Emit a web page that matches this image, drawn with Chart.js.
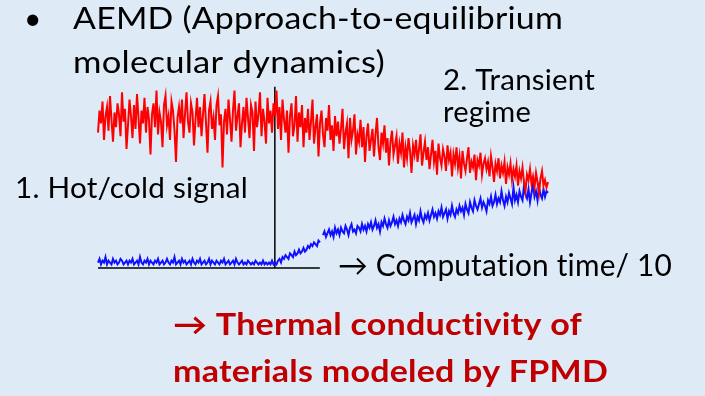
<!DOCTYPE html>
<html>
<head>
<meta charset="utf-8">
<script src="https://cdn.jsdelivr.net/npm/chart.js@4"></script>
<style>
  body { margin: 0; background: #deebf7; }
  #wrap { width: 705px; height: 396px; }
</style>
</head>
<body>
<div id="wrap"><canvas id="aemdChart" width="705" height="396"></canvas></div>
<script>
// hot side signal (red), % of initial gap
const hotSignal = [
  74, 86, 79, 91, 70, 83, 88, 75, 94, 81, 69, 85, 77, 90, 84, 72, 96, 80, 87, 65,
  78, 92, 83, 71, 89, 76, 95, 82, 68, 86, 79, 93, 74, 88, 81, 62, 84, 90, 77, 97,
  73, 85, 80, 66, 89, 94, 78, 83, 70, 91, 86, 75, 58, 82, 88, 79, 92, 71, 84, 96,
  80, 74, 90, 85, 67, 81, 93, 77, 88, 72, 84, 95, 79, 63, 86, 91, 76, 82, 70, 89,
  94, 78, 84, 55, 80, 87, 73, 92, 81, 69, 86, 97, 75, 83, 90, 66, 79, 88, 74, 93,
  82, 71, 89, 85, 64, 91, 77, 84, 96, 72, 87, 80, 68, 93, 79, 86, 74, 90, 83, 97,
  76, 88, 70, 92, 81, 74, 86, 63, 83, 90, 72, 78, 94, 69, 85, 77, 89, 66, 82, 74,
  87, 70, 80, 92, 68, 77, 84, 61, 79, 86, 73, 66, 82, 75, 89, 70, 78, 64, 83, 72,
  80, 68, 76, 87, 65, 74, 79, 60, 82, 70, 75, 84, 62, 73, 69, 81, 66, 77, 58, 72,
  79, 64, 70, 76, 61, 73, 82, 66, 59, 74, 68, 78, 63, 71, 56, 69, 75, 62, 67, 72,
  57, 68, 63, 74, 55, 66, 60, 71, 64, 52, 67, 62, 70, 58, 65, 73, 56, 63, 69, 59,
  66, 54, 62, 70, 58, 64, 51, 68, 60, 56, 65, 61, 53, 67, 59, 63, 50, 62, 57, 66,
  55, 61, 49, 64, 57, 53, 60, 66, 52, 58, 55, 62, 48, 59, 56, 63, 51, 57, 60, 54,
  58, 50, 61, 55, 47, 57, 53, 60, 49, 56, 52, 58, 46, 55, 51, 57, 48, 54, 50, 56,
  45, 53, 49, 55, 47, 42, 51, 48, 54, 46, 50, 44, 52, 47, 41, 49, 53, 45, 48, 44,
  47
];
// cold side signal (blue); null = short break in the trace
const coldSignal = [
  3, 5, 2, 4, 3, 6, 2, 4, 3, 2, 5, 3, 4, 2, 3, 5, 4, 2, 3, 4,
  2, 4, 3, 5, 2, 3, 4, 2, 6, 3, 2, 4, 3, 5, 2, 4, 3, 2, 4, 3,
  5, 2, 3, 4, 2, 3, 5, 3, 2, 4, 3, 6, 2, 3, 4, 2, 5, 3, 4, 2,
  3, 4, 2, 5, 3, 2, 4, 3, 5, 2, 3, 4, 2, 3, 5, 2, 4, 3, 2, 4,
  3, 2, 4, 3, 5, 2, 3, 4, 2, 3, 4, 2, 5, 3, 2, 3, 4, 2, 3, 2,
  4, 3, 2, 3, 2, 4, 3, 2, 3, 2, 4, 2, 3, 2, 3, 2, 4, 2, 3, 2,
  4, 5, 3, 6, 5, 7, 6, 5, 8, 7, 6, 9, 7, 8, 10, 8, 9, 11, 9, 10,
  12, 11, 13, 12, 14, 13, 12, 15, 14, null, 18, 20, 17, 19, 21, 18, 20, 17, 22, 19,
  21, 18, 22, 20, 19, 23, 21, 18, 22, 24, 20, 21, 19, 23, 22, 20, 24, 21, 23, 20,
  24, 22, 25, 21, 23, 26, 22, 24, 20, 25, 23, 27, 24, 22, 26, 23, 25, 28, 24, 26,
  23, 27, 25, 29, 26, 24, 28, 26, 30, 25, 27, 29, 24, 28, 26, 31, 27, 25, 29, 27,
  30, 26, 29, 32, 28, 30, 27, 31, 29, 33, 28, 30, 32, 27, 31, 29, 34, 30, 28, 32,
  30, 34, 31, 33, 29, 35, 32, 30, 36, 33, 31, 37, 34, 32, 35, 38, 33, 36, 34, 31,
  37, 35, 39, 34, 36, 40, 35, 38, 36, 42, 37, 34, 39, 36, 41, 38, 35, 44, 37, 40,
  36, 42, 39, 37, 45, 40, 38, 43, 36, 41, 46, 39, 42, 37, 44, 40, 38, 43, 39, 42,
  41
];
// time axis stub and the switch-off marker
const timeAxis = [0, 49.3];
const switchTime = 39.3;
const switchTop = 99;

function toPoints(arr) {
  const step = 100 / (arr.length - 1);
  return arr.map((v, i) => ({ x: i * step, y: v }));
}

// text lines: [text, left, baseline, width, font, colour]
const slideText = [
  ['\u2022', 24, 29, 0, '30px Lato', '#000'],
  ['AEMD (Approach-to-equilibrium', 73, 29, 490, '30px Lato', '#000'],
  ['molecular dynamics)', 73, 73, 312, '30px Lato', '#000'],
  ['2. Transient', 443, 90, 152, '28px Lato', '#000'],
  ['regime', 443, 122, 88, '28px Lato', '#000'],
  ['1. Hot/cold signal', 15, 198, 233, '28px Lato', '#000'],
  ['\u2192 Computation time/ 10', 338, 276, 334, '30px Lato', '#000'],
  ['\u2192 Thermal conductivity of', 173, 335, 409, 'bold 30px Lato', '#c00000'],
  ['materials modeled by FPMD', 173, 382, 435, 'bold 30px Lato', '#c00000']
];

const slidePlugin = {
  id: 'slide',
  beforeDraw(chart) {
    const ctx = chart.ctx;
    ctx.save();
    ctx.fillStyle = '#deebf7';
    ctx.fillRect(0, 0, chart.width, chart.height);
    ctx.restore();
  },
  afterDraw(chart) {
    const ctx = chart.ctx;
    slideText.forEach(([txt, x, y, w, font, col]) => {
      ctx.save();
      ctx.font = font;
      ctx.letterSpacing = '0.2px'; // stops the "ti" ligature
      ctx.fillStyle = col;
      ctx.textBaseline = 'alphabetic';
      ctx.translate(x, y);
      if (w > 0) {
        const m = ctx.measureText(txt).width;
        ctx.scale(w / m, 1);
      }
      ctx.fillText(txt, 0, 0);
      ctx.restore();
    });
  }
};

new Chart(document.getElementById('aemdChart'), {
  type: 'line',
  data: {
    datasets: [
      {
        label: 'Hot',
        data: toPoints(hotSignal),
        borderColor: '#ff0000',
        borderWidth: 2
      },
      {
        label: 'Cold',
        data: toPoints(coldSignal),
        borderColor: '#1010ff',
        borderWidth: 2,
        spanGaps: false
      },
      {
        label: 'time axis',
        data: timeAxis.map(t => ({ x: t, y: 0 })),
        borderColor: '#000',
        borderWidth: 1.5
      },
      {
        label: 'switch',
        data: [{ x: switchTime, y: 0 }, { x: switchTime, y: switchTop }],
        borderColor: '#000',
        borderWidth: 1.5
      }
    ]
  },
  options: {
    responsive: false,
    animation: false,
    layout: { padding: { left: 98, right: 157, top: 85, bottom: 128 } },
    elements: { point: { radius: 0 }, line: { tension: 0 } },
    datasets: { line: { clip: false } },
    scales: {
      x: { type: 'linear', min: 0, max: 100, display: false },
      y: { min: 0, max: 100, display: false }
    },
    plugins: { legend: { display: false }, tooltip: { enabled: false } }
  },
  plugins: [slidePlugin]
});
</script>
</body>
</html>
